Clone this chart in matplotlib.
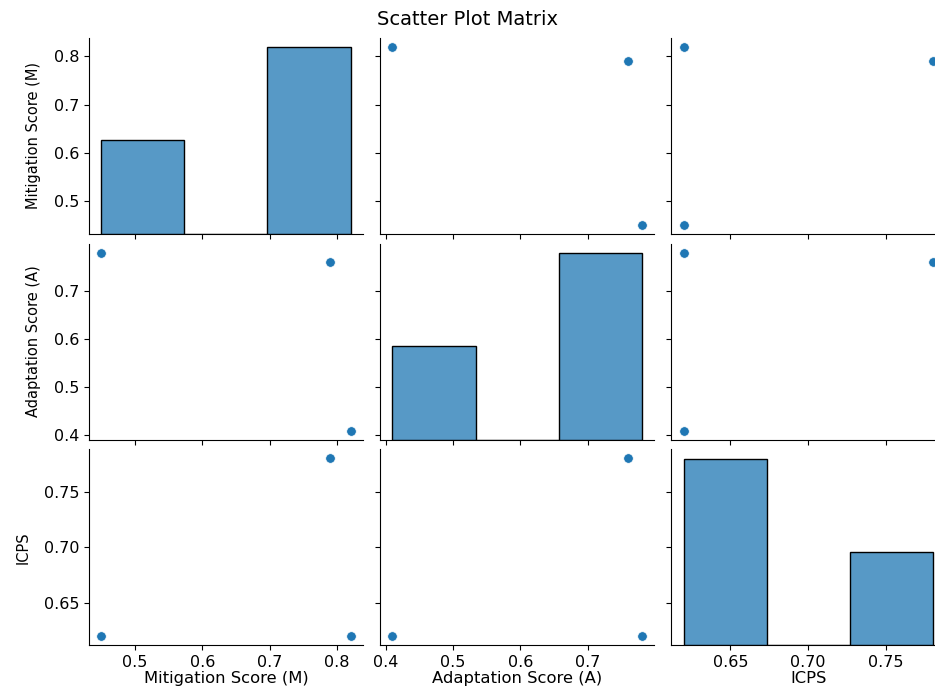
import matplotlib
matplotlib.use("Agg")
import matplotlib.pyplot as plt
import seaborn as sns
import pandas as pd

mitigation = [0.45, 0.79, 0.82]
adaptation = [0.78, 0.76, 0.41]
icps = [0.62, 0.78, 0.62]

df = pd.DataFrame({
    "Mitigation Score (M)": mitigation,
    "Adaptation Score (A)": adaptation,
    "ICPS": icps,
})

g = sns.pairplot(df, height=6.88 / 3, aspect=9.35 / 6.88, plot_kws={"s": 48})
g.figure.set_size_inches(9.35, 6.88)
g.figure.subplots_adjust(left=0.095, right=1.011, top=0.945, bottom=0.062,
                         wspace=0.062, hspace=0.05)
for ax in g.axes.flat:
    ax.tick_params(labelsize=11.5)
    ax.xaxis.label.set_size(11.8)
    ax.xaxis.labelpad = 0.5
    ax.yaxis.label.set_size(10.5)
    ax.yaxis.labelpad = 9
g.figure.suptitle("Scatter Plot Matrix", y=0.985, fontsize=14)
g.figure.savefig("out.png", dpi=100)
